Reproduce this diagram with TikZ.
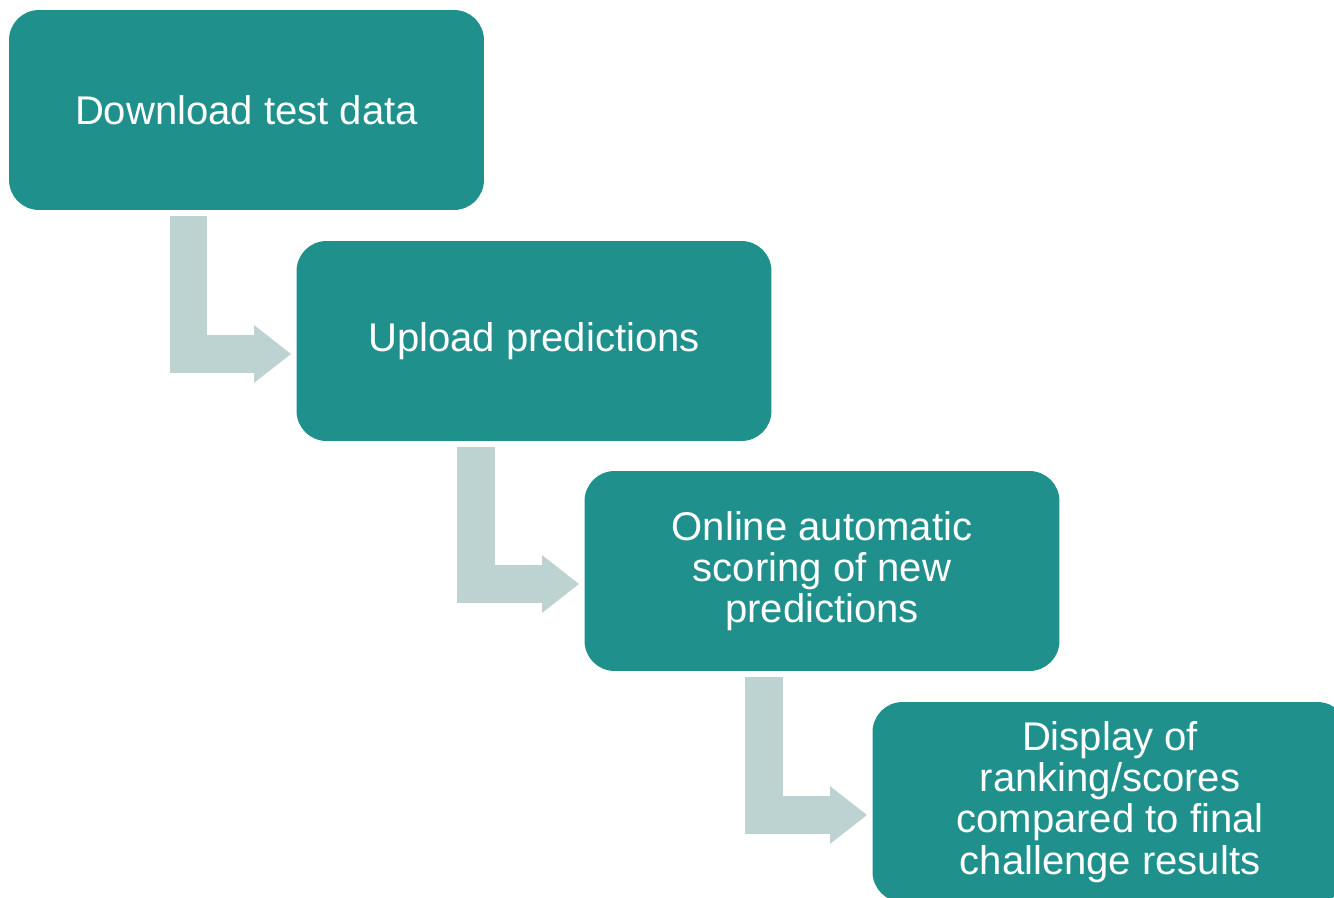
\documentclass[tikz,border=0pt]{standalone}
\usepackage{fontspec}
\setmainfont{Liberation Sans}
\usepackage{tikz}
\usetikzlibrary{arrows.meta, calc}
\definecolor{tealbox}{HTML}{1F908C}
\definecolor{paleflow}{HTML}{BDD3D1}
\tikzset{
    stepbox/.style={rectangle, rounded corners=0.6cm, fill=tealbox, text=white, minimum width=9.5cm, minimum height=4cm, align=center, font=\fontsize{22.8pt}{23.4pt}\selectfont},
    flow/.style={draw=paleflow, line width=0.75cm, -{Triangle[length=0.74cm, width=1.1cm]}},
}

\begin{document}
\begin{tikzpicture}[x=0.02cm, y=0.02cm]
    \useasboundingbox (0,0) rectangle (1334,-898);
    \clip (0,0) rectangle (1334,-898);
    \node[stepbox] (download) at (246.5,-110) {Download test data};
    \node[stepbox] (upload) at (534,-341) {Upload predictions};
    \node[stepbox] (scoring) at (822,-571) {Online automatic\\scoring of new\\predictions};
    \node[stepbox] (display) at (1110,-802) {Display of\\ranking/scores\\compared to final\\challenge results};
    % bent arrows from each step down to the next one
    \foreach \a/\b in {download/upload, upload/scoring, scoring/display}
        \draw[flow] ($(\a.south west)+(180,-6)$) |- ($(\b.west)+(-5,-13)$);
\end{tikzpicture}
\end{document}
